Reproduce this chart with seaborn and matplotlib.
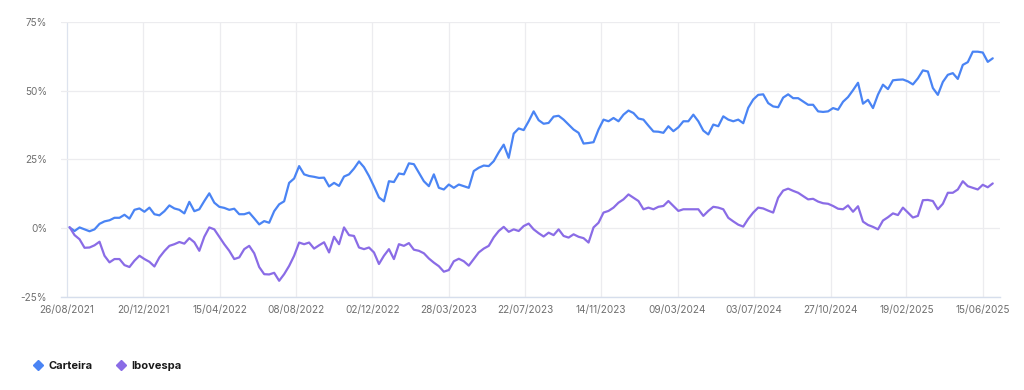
import matplotlib
matplotlib.use("Agg")
import matplotlib.pyplot as plt
from matplotlib.lines import Line2D
import seaborn as sns
import pandas as pd
import numpy as np

# ---- data ----
start_date = "2021-08-30"
end_date = "2025-06-30"

carteira = [
    0.3, -1.0, 0.3, -0.4, -1.1, -0.4, 1.6, 2.5, 2.9, 3.8,
    3.8, 4.9, 3.5, 6.7, 7.2, 6.0, 7.5, 5.1, 4.7, 6.2,
    8.3, 7.2, 6.7, 5.4, 9.6, 6.2, 6.9, 9.9, 12.7, 9.3,
    7.8, 7.4, 6.7, 7.1, 5.1, 5.1, 5.7, 3.6, 1.4, 2.6,
    2.0, 6.2, 8.7, 9.8, 16.5, 18.1, 22.6, 19.6, 19.0, 18.7,
    18.3, 18.4, 15.2, 16.5, 15.4, 18.8, 19.6, 21.7, 24.3, 22.2,
    19.0, 15.2, 11.2, 9.8, 17.1, 16.8, 19.9, 19.6, 23.6, 23.3,
    20.2, 17.1, 15.3, 19.6, 14.7, 14.1, 15.9, 14.7, 15.9, 15.3,
    14.7, 20.8, 22.0, 22.8, 22.6, 24.4, 27.6, 30.4, 25.6, 34.4,
    36.3, 35.7, 38.9, 42.5, 39.3, 38.0, 38.3, 40.6, 40.9, 39.5,
    37.7, 35.9, 34.7, 30.8, 31.0, 31.3, 35.9, 39.5, 38.9, 40.1,
    38.9, 41.3, 42.8, 41.9, 39.9, 39.5, 37.3, 35.2, 35.1, 34.7,
    37.1, 35.3, 36.7, 38.9, 38.9, 41.3, 38.9, 35.5, 34.1, 37.7,
    37.1, 40.7, 39.5, 38.9, 39.5, 38.2, 43.8, 46.8, 48.5, 48.7,
    45.5, 44.3, 44.0, 47.5, 48.7, 47.3, 47.3, 46.1, 44.9, 44.9,
    42.5, 42.3, 42.5, 43.7, 43.1, 46.0, 47.7, 50.2, 52.9, 45.3,
    46.7, 43.7, 48.6, 52.2, 50.6, 53.8, 54.0, 54.1, 53.4, 52.3,
    54.5, 57.4, 57.0, 51.0, 48.5, 53.2, 55.8, 56.4, 54.3, 59.4,
    60.4, 64.2, 64.2, 63.9, 60.5, 61.8,
]

ibovespa = [
    0.4, -2.5, -4.0, -7.1, -7.0, -6.2, -4.9, -10.0, -12.4, -11.2,
    -11.2, -13.4, -14.1, -11.8, -10.0, -11.2, -12.2, -13.9, -10.6, -8.3,
    -6.4, -5.8, -5.0, -5.6, -3.6, -5.1, -8.2, -3.1, 0.3, -0.4,
    -3.1, -5.8, -8.2, -11.2, -10.6, -7.6, -6.4, -9.1, -14.1, -16.7,
    -16.8, -16.2, -19.1, -16.7, -13.7, -10.0, -5.2, -5.8, -5.2, -7.4,
    -6.2, -5.1, -8.8, -3.1, -5.8, 0.3, -2.5, -2.8, -7.0, -7.6,
    -7.0, -8.8, -13.0, -10.0, -7.6, -11.2, -5.8, -6.4, -5.4, -7.8,
    -8.2, -9.1, -11.0, -12.5, -13.8, -15.8, -15.2, -12.0, -11.1, -12.0,
    -13.6, -11.2, -8.8, -7.4, -6.4, -3.3, -1.0, 0.5, -1.3, -0.4,
    -1.0, 0.8, 1.7, -0.4, -1.8, -3.0, -1.6, -2.5, -0.4, -2.8,
    -3.4, -2.2, -3.1, -3.6, -5.2, 0.3, 2.0, 5.7, 6.3, 7.5,
    9.3, 10.5, 12.3, 11.1, 9.9, 6.9, 7.5, 6.9, 7.8, 8.1,
    9.9, 8.1, 6.3, 6.9, 6.9, 6.9, 6.9, 4.5, 6.3, 7.8,
    7.5, 6.9, 3.8, 2.5, 1.3, 0.6, 3.4, 5.7, 7.5, 7.2,
    6.4, 5.7, 11.1, 13.7, 14.4, 13.6, 12.9, 11.7, 10.5, 10.7,
    9.7, 9.1, 8.9, 8.1, 7.1, 6.9, 8.3, 6.0, 8.0, 2.4,
    1.2, 0.5, -0.4, 2.8, 4.0, 5.4, 4.8, 7.5, 5.7, 3.9,
    4.5, 10.2, 10.3, 9.9, 6.9, 8.9, 12.9, 12.9, 14.1, 17.1,
    15.3, 14.7, 14.1, 15.8, 14.9, 16.3,
]

series_names = ["Carteira", "Ibovespa"]
series_colors = ["#4A84F4", "#8A6CE6"]

tick_labels = ["26/08/2021", "20/12/2021", "15/04/2022", "08/08/2022",
               "02/12/2022", "28/03/2023", "22/07/2023", "14/11/2023",
               "09/03/2024", "03/07/2024", "27/10/2024", "19/02/2025",
               "15/06/2025"]
y_ticks = [-25, 0, 25, 50, 75]

# ---- build table ----
dates = pd.date_range(start_date, end_date, periods=len(carteira))
df = pd.concat([
    pd.DataFrame({"date": dates, "value": carteira, "serie": series_names[0]}),
    pd.DataFrame({"date": dates, "value": ibovespa, "serie": series_names[1]}),
])

sns.set_theme(style="white")
plt.rcParams["font.family"] = ["Inter", "DejaVu Sans"]

fig = plt.figure(figsize=(10.24, 3.9), dpi=100)
ax = fig.add_axes([61 / 1024, 1 - 297 / 390, (1000 - 61) / 1024, (297 - 22) / 390])

sns.lineplot(data=df, x="date", y="value", hue="serie",
             palette=dict(zip(series_names, series_colors)),
             linewidth=1.6, ax=ax, legend=False)

tick_dates = pd.to_datetime(tick_labels, format="%d/%m/%Y")
ax.set_xticks(tick_dates)
ax.set_xticklabels(tick_labels, fontsize=7.2, color="#6f6f6f")
ax.set_yticks(y_ticks)
ax.set_yticklabels([f"{v}%" for v in y_ticks], fontsize=7.2, color="#6f6f6f")
ax.set_ylim(-25, 75)
ax.set_xlim(pd.Timestamp("2021-08-17"), pd.Timestamp("2025-07-11"))
ax.set_xlabel("")
ax.set_ylabel("")

ax.grid(True, color="#ececef", linewidth=0.9)
ax.set_axisbelow(True)
for s in ["top", "right", "left"]:
    ax.spines[s].set_visible(False)
ax.spines["bottom"].set_color("#d6deec")
ax.spines["bottom"].set_linewidth(1.0)
ax.get_xgridlines()[0].set_color("#dde3ee")
ax.tick_params(axis="both", length=0, pad=6)
ax.tick_params(axis="y", pad=10)

handles = [Line2D([0], [0], marker="D", linestyle="none", markersize=5,
                  markerfacecolor=c, markeredgecolor=c) for c in series_colors]
fig.legend(handles, series_names, loc="center left",
           bbox_to_anchor=(24 / 1024, 1 - 366 / 390), ncol=2, frameon=False,
           prop={"weight": "bold", "size": 8}, handlelength=0.8,
           handletextpad=0.5, columnspacing=2.2, labelcolor="#1a1a1a")

fig.savefig("out.png", dpi=100)
